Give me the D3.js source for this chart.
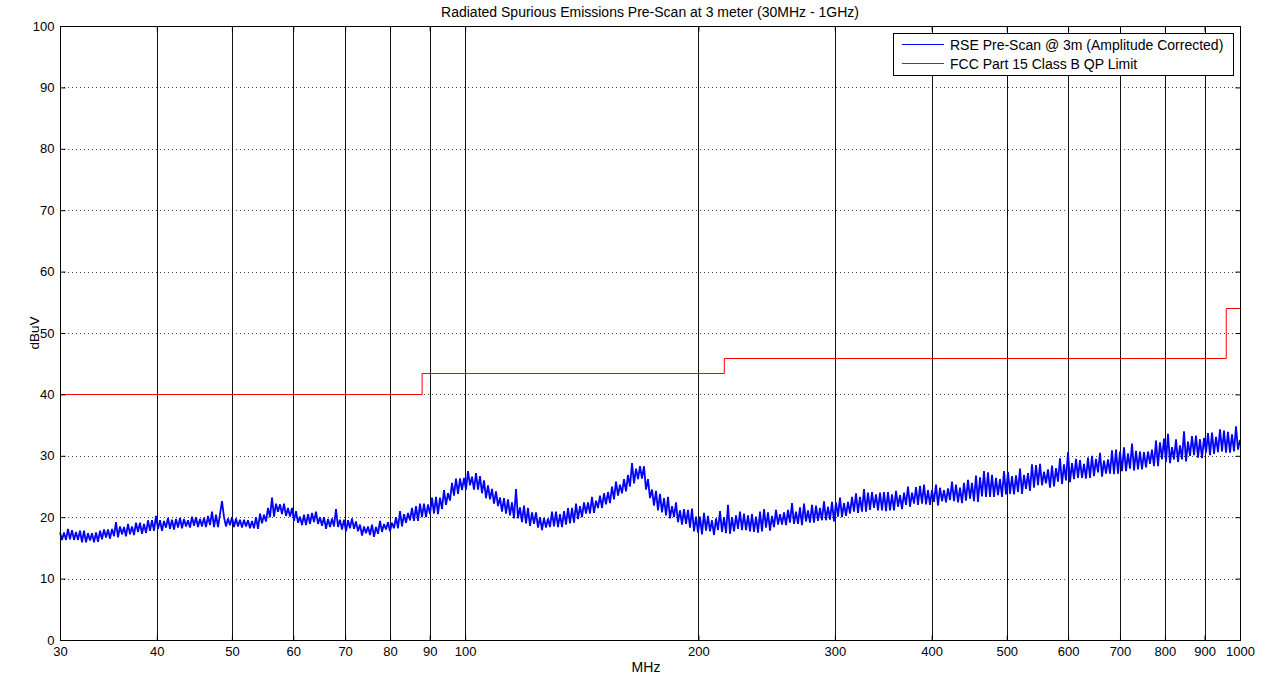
<!DOCTYPE html>
<html><head><meta charset="utf-8">
<script src="https://cdn.jsdelivr.net/npm/d3@7/dist/d3.min.js"></script>
<style>
html,body{margin:0;padding:0;background:#fff;}
svg text{font-family:"Liberation Sans",Arial,Helvetica,sans-serif;fill:#000;}
</style></head>
<body><svg id="c" width="1266" height="677"></svg>
<script>
const titleText = "Radiated Spurious Emissions Pre-Scan at 3 meter (30MHz - 1GHz)";
const xLabel = "MHz";
const yLabel = "dBuV";
const xTicks = [30,40,50,60,70,80,90,100,200,300,400,500,600,700,800,900,1000];
const yTicks = [0,10,20,30,40,50,60,70,80,90,100];
const seriesNames = ["RSE Pre-Scan @ 3m (Amplitude Corrected)", "FCC Part 15 Class B QP Limit"];

// FCC Part 15 Class B QP limit (band edges in MHz, level in dBuV)
const limitEdges = [30, 88, 216, 960, 1000];
const limitLevels = [40, 43.5, 46, 54];

// RSE sweep: log sweep 30 MHz .. 1000 MHz, one level (dBuV) per sweep point
const sweepStart = 30, sweepStop = 1000;
const rseLevels = [
17.5,16.3,17.5,16.3,18.1,16.4,17.9,16.3,17.6,16.3,
17.8,15.9,17.8,15.9,17.4,16.2,17.4,15.9,17.5,16.0,
17.8,16.4,18.0,16.7,18.0,16.5,18.1,16.9,19.2,16.7,
18.5,17.2,18.4,16.9,18.9,17.2,18.5,17.1,19.1,17.6,
19.1,17.3,18.9,17.4,19.5,17.8,19.5,17.8,20.2,18.1,
19.5,17.8,19.4,18.3,19.9,18.1,19.6,18.0,19.7,18.3,
19.9,18.2,19.7,18.5,19.5,18.3,20.1,18.6,20.0,18.4,
19.7,18.5,19.9,18.4,20.2,18.7,20.9,18.4,20.4,18.4,
20.5,22.6,20.0,18.5,19.8,18.7,20.0,18.4,19.8,18.5,
19.6,18.3,19.6,18.5,19.5,18.2,19.4,18.2,20.0,18.1,
20.6,19.0,20.4,19.3,21.5,20.0,23.2,20.1,22.2,20.9,
22.1,20.5,22.2,20.2,21.5,20.1,21.5,19.4,21.0,19.1,
20.1,18.7,20.4,18.7,20.5,18.9,20.7,19.2,20.9,18.9,
20.0,18.6,20.0,18.1,19.7,18.4,19.8,18.5,21.3,18.4,
19.6,18.0,19.6,17.7,19.5,18.2,19.8,18.1,19.3,17.7,
18.8,17.0,18.5,17.4,18.5,17.1,18.8,16.8,18.4,17.3,
19.4,17.6,18.9,18.0,19.2,17.7,19.1,18.2,20.0,18.2,
21.0,18.5,20.5,19.1,20.7,19.5,21.5,19.4,21.8,19.4,
22.2,20.0,22.2,20.0,22.1,20.5,23.2,20.6,23.3,20.5,
23.2,21.3,24.4,22.0,23.9,22.7,25.6,23.5,26.3,23.8,
26.3,24.4,26.4,24.5,27.5,25.2,26.6,24.5,27.2,24.5,
26.7,23.9,26.0,23.1,25.2,22.9,24.6,22.2,24.2,21.8,
23.2,20.9,23.1,20.6,22.9,20.3,22.4,19.8,24.6,19.8,
21.6,19.2,21.9,19.0,21.5,18.6,20.8,18.9,20.8,18.3,
20.0,17.9,19.9,18.3,19.8,18.4,20.9,18.5,20.9,18.4,
20.5,18.4,21.0,18.8,21.5,19.0,21.5,19.1,22.2,19.7,
21.8,20.0,22.4,20.6,22.4,20.6,23.3,20.7,22.7,21.5,
23.5,21.5,23.9,22.1,24.1,22.3,25.0,22.9,25.8,23.5,
25.3,23.9,26.2,24.2,26.9,25.0,28.8,25.5,27.9,26.2,
28.3,26.3,28.3,24.5,26.2,23.1,24.5,21.9,24.3,21.1,
23.8,20.8,23.1,20.3,23.3,19.8,21.8,20.0,22.4,19.2,
21.1,18.8,21.3,18.9,21.2,18.3,21.4,17.7,20.1,17.5,
20.1,17.2,20.7,17.8,20.2,17.7,19.5,17.1,19.8,17.9,
21.0,17.6,20.0,17.4,22.0,17.3,20.0,17.7,20.3,18.1,
20.9,17.9,20.6,17.9,20.3,17.7,20.5,17.6,20.1,17.5,
20.9,17.7,21.3,18.3,20.8,17.8,20.2,18.4,21.2,18.8,
20.5,18.8,20.8,18.7,21.2,19.1,22.3,18.9,20.9,18.9,
21.6,18.7,22.2,19.3,21.1,19.1,22.0,19.1,21.9,19.4,
21.5,19.5,22.6,19.5,21.7,19.6,22.5,19.3,22.4,20.1,
23.2,20.0,22.3,20.2,22.5,20.6,23.3,20.9,23.9,20.7,
23.3,20.9,24.6,20.9,24.0,21.2,24.1,21.5,23.7,21.1,
24.0,21.1,24.1,21.0,24.1,21.1,23.7,21.1,24.3,21.7,
23.6,21.3,24.0,22.0,25.0,21.7,24.0,22.2,24.9,22.0,
25.1,22.2,25.3,22.1,24.4,22.0,24.4,22.5,25.3,21.9,
24.8,22.6,24.4,22.4,24.7,22.8,25.8,22.6,25.3,22.4,
24.8,22.3,25.6,22.7,26.1,23.0,25.6,22.6,26.8,22.5,
26.5,23.4,27.5,23.3,27.3,23.3,26.9,23.3,26.4,23.6,
26.2,23.3,27.5,23.7,27.4,23.8,26.7,23.7,26.8,24.1,
27.9,23.8,26.9,24.6,27.2,24.3,28.6,24.8,28.5,25.2,
28.7,25.2,27.4,25.5,27.8,24.8,28.4,25.0,28.0,25.8,
29.6,25.4,28.6,26.0,30.6,25.7,28.8,26.2,29.5,26.4,
29.3,26.4,28.7,26.3,29.7,26.4,30.0,26.7,29.5,27.3,
30.5,26.6,29.2,27.1,29.4,27.1,30.9,27.0,31.0,27.1,
30.7,27.5,31.4,27.5,30.4,27.9,32.0,27.6,30.8,27.8,
30.7,27.8,30.6,28.1,30.7,28.7,31.0,28.3,32.5,28.3,
32.2,29.4,32.8,29.0,33.6,28.8,31.4,29.4,32.7,29.0,
31.7,29.4,34.0,29.1,32.3,30.0,33.2,30.1,33.3,29.7,
32.7,29.6,32.9,30.5,33.7,30.1,33.8,30.3,33.1,30.6,
34.3,30.7,34.1,30.5,33.9,30.5,33.5,30.7,34.8,31.0,
32.6
];

const svg = d3.select("#c");
const L = 60, R = 1240, T = 26, B = 640;
const x = d3.scaleLog().domain([30, 1000]).range([L, R]);
const y = d3.scaleLinear().domain([0, 100]).range([B, T]);

// sweep frequencies of the samples (log sweep)
const nPts = rseLevels.length;
const rse = rseLevels.map((v, i) => ({f: sweepStart * Math.pow(sweepStop / sweepStart, i / (nPts - 1)), v}));

// horizontal dotted grid
svg.append("g").selectAll("line").data(yTicks.filter(t => t > 0 && t < 100)).join("line")
  .attr("x1", L).attr("x2", R)
  .attr("y1", d => Math.round(y(d)) + 0.5).attr("y2", d => Math.round(y(d)) + 0.5)
  .attr("stroke", "#444").attr("stroke-width", 1).attr("stroke-dasharray", "1,3");

// vertical solid grid
svg.append("g").selectAll("line").data(xTicks.filter(t => t > 30 && t < 1000)).join("line")
  .attr("x1", d => Math.round(x(d)) + 0.5).attr("x2", d => Math.round(x(d)) + 0.5)
  .attr("y1", T).attr("y2", B)
  .attr("stroke", "#111").attr("stroke-width", 1);

// RSE trace
svg.append("path").datum(rse)
  .attr("fill", "none").attr("stroke", "#0000ff").attr("stroke-width", 1.8)
  .attr("stroke-linejoin", "miter").attr("stroke-miterlimit", 3)
  .attr("d", d3.line().x(d => x(d.f)).y(d => y(d.v)));

// limit line
const limitPts = limitLevels.map((v, i) => ({f: limitEdges[i], v})).concat([{f: limitEdges[limitEdges.length - 1], v: limitLevels[limitLevels.length - 1]}]);
svg.append("path").datum(limitPts)
  .attr("fill", "none").attr("stroke", "#ff0000").attr("stroke-width", 1)
  .attr("d", d3.line().x(d => x(d.f)).y(d => Math.round(y(d.v)) + 0.5).curve(d3.curveStepAfter));

// axes
const yAxL = d3.axisLeft(y).tickValues(yTicks).tickSizeInner(-5).tickSizeOuter(0).tickPadding(6);
const gyl = svg.append("g").attr("transform", `translate(${L + 0.5},0)`).call(yAxL);
const yAxR = d3.axisRight(y).tickValues(yTicks).tickSizeInner(-5).tickSizeOuter(0).tickFormat("");
const gyr = svg.append("g").attr("transform", `translate(${R + 0.5},0)`).call(yAxR);
const xAxB = d3.axisBottom(x).tickValues(xTicks).tickFormat(d3.format("d")).tickSizeInner(-5).tickSizeOuter(0);
const gxb = svg.append("g").attr("transform", `translate(0,${B + 0.5})`).call(xAxB);
const xAxT = d3.axisTop(x).tickValues(xTicks).tickFormat("").tickSizeInner(-5).tickSizeOuter(0);
const gxt = svg.append("g").attr("transform", `translate(0,${T + 0.5})`).call(xAxT);
[gyl, gyr, gxb, gxt].forEach(g => {
  g.select(".domain").remove();
  g.selectAll("line").attr("stroke", "#000");
  g.selectAll("text").attr("font-size", 13).attr("fill", "#000")
   .attr("font-family", "'Liberation Sans',Arial,sans-serif");
});
gxb.selectAll("text").attr("dy", "0.71em").attr("y", 6);

// box
svg.append("rect").attr("x", L + 0.5).attr("y", T + 0.5).attr("width", R - L).attr("height", B - T)
  .attr("fill", "none").attr("stroke", "#000").attr("stroke-width", 1);

// title and labels
svg.append("text").attr("x", 650).attr("y", 17).attr("text-anchor", "middle").attr("font-size", 14).text(titleText);
svg.append("text").attr("x", 646).attr("y", 672).attr("text-anchor", "middle").attr("font-size", 14).text(xLabel);
svg.append("text").attr("transform", "translate(39,333) rotate(-90)").attr("text-anchor", "middle").attr("font-size", 13.5).text(yLabel);

// legend
const lg = svg.append("g");
lg.append("rect").attr("x", 893.5).attr("y", 33.5).attr("width", 340).attr("height", 42)
  .attr("fill", "#fff").attr("stroke", "#000");
const colors = ["#0000ff", "#ff0000"];
seriesNames.forEach((n, i) => {
  const yy = 44.5 + i * 19;
  lg.append("line").attr("x1", 902).attr("x2", 944).attr("y1", yy).attr("y2", yy).attr("stroke", colors[i]);
  lg.append("text").attr("x", 950).attr("y", yy + 5).attr("font-size", 14).text(n);
});
</script></body></html>
